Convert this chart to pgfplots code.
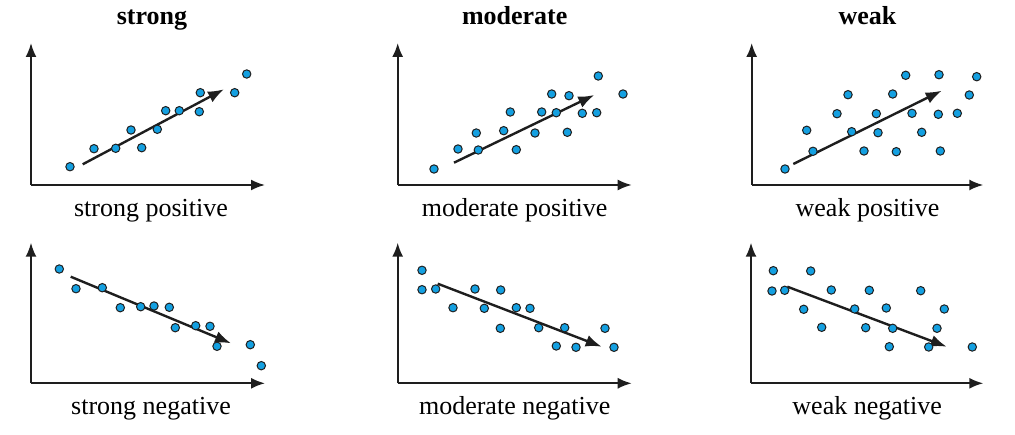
\documentclass[border=0pt]{standalone}
\usepackage{pgfplots}
\pgfplotsset{compat=1.18}
\usepackage{fontspec}
\setmainfont{Liberation Serif}
\usetikzlibrary{arrows.meta}
\definecolor{dotblue}{RGB}{20,160,225}
\definecolor{ink}{RGB}{30,30,30}
\pgfplotsset{
  panel/.style={
    x=1pt, y=1pt,
    anchor=south west,
    axis lines=left,
    axis line style={ink, line width=1.9pt, -{Latex[length=14pt,width=11pt]}},
    xtick=\empty, ytick=\empty,
    clip=false,
    xlabel style={at={(axis description cs:0.5,0)}, anchor=base, yshift=-32pt, font=\fontsize{26}{30}\selectfont, inner sep=0pt},
    title style={at={(axis description cs:0.5,1)}, anchor=base, yshift=12pt, font=\fontsize{26}{30}\selectfont\bfseries, inner sep=0pt},
  },
  dots/.style={only marks, mark=*, mark size=4.2pt, mark options={fill=dotblue, draw=ink, line width=1pt}},
  trend/.style={ink, line width=2.4pt, -{Latex[length=16pt,width=12pt]}},
}
\begin{document}
\begin{tikzpicture}
\path (0,0) rectangle (1015pt,434pt);
% strong positive
\begin{axis}[panel, at={(31pt,249pt)}, xmin=31, xmax=265, ymin=249, ymax=391,
  title={strong}, xlabel={strong positive}, xlabel style={xshift=3pt}, title style={xshift=4pt}]
\addplot[dots] coordinates {(70,267.3) (94,285.3) (115.7,285.7) (131,304) (141.7,286.3) (157.3,304.7) (165.7,323.3) (179.3,323.3) (199.3,322.3) (200.3,341.3) (234.7,341.3) (246.7,360)};
\addplot[trend] coordinates {(82.7,269.7) (224,344.7)};
\end{axis}
% moderate positive
\begin{axis}[panel, at={(397.7pt,249pt)}, xmin=397.7, xmax=631.7, ymin=249, ymax=391,
  title={moderate}, xlabel={moderate positive}]
\addplot[dots] coordinates {(434,265) (458,285) (476.3,301) (478.3,284) (503.7,303.3) (510.3,322) (516.3,284.3) (535,301) (541.7,322) (551.7,340) (556.3,321.3) (567.3,301.7) (569,338.3) (582.3,320.7) (596.7,321.3) (598.3,358) (623,340)};
\addplot[trend] coordinates {(454,271.3) (594.3,339)};
\end{axis}
% weak positive
\begin{axis}[panel, at={(751.7pt,249pt)}, xmin=751.7, xmax=983.3, ymin=249, ymax=391,
  title={weak}, xlabel={weak positive}]
\addplot[dots] coordinates {(785,265) (806.7,303.7) (813,282.7) (837,320.3) (848,339.3) (851.7,302.3) (864,283) (876.3,320.3) (878,301.3) (892.7,340) (896.3,282.3) (905.7,358.7) (912,320.7) (921.7,301.7) (938.3,319.7) (939,359.3) (940.3,283) (957.3,320.7) (969.3,339) (976.7,357.3)};
\addplot[trend] coordinates {(793.3,270) (941.7,343.3)};
\end{axis}
% strong negative
\begin{axis}[panel, at={(31pt,50.7pt)}, xmin=31, xmax=265, ymin=50.7, ymax=191.3,
  xlabel={strong negative}, xlabel style={xshift=3pt, yshift=1pt}]
\addplot[dots] coordinates {(59.3,165) (76,145.3) (102.3,146.3) (120.3,126.3) (140.7,127.3) (154,128) (169.3,126.7) (175.3,106.3) (195.7,108.3) (210,107.7) (217,87.7) (250.3,89.3) (261.3,68.3)};
\addplot[trend] coordinates {(70.7,157.3) (231,90.7)};
\end{axis}
% moderate negative
\begin{axis}[panel, at={(397.7pt,50.7pt)}, xmin=397.7, xmax=631.7, ymin=50.7, ymax=191.3,
  xlabel={moderate negative}, xlabel style={yshift=1pt}]
\addplot[dots] coordinates {(422,163.7) (422,144.3) (435.7,145) (453,126.3) (475,145) (484.3,125.7) (500.7,144) (500.3,105.7) (516.3,126.3) (530,125.7) (538.7,106.3) (556.3,88) (564.7,106.3) (576,86.7) (605,105.7) (614,86.7)};
\addplot[trend] coordinates {(437.7,150.3) (601.7,87.3)};
\end{axis}
% weak negative
\begin{axis}[panel, at={(751pt,50.7pt)}, xmin=751, xmax=983.3, ymin=50.7, ymax=191.3,
  xlabel={weak negative}, xlabel style={yshift=1pt}]
\addplot[dots] coordinates {(773.3,163.3) (810.7,163) (772,143) (784.7,143.7) (831.3,144) (869.3,143.7) (920.7,143.3) (803.7,124.7) (854.7,125) (886.3,126) (944.3,125) (821.7,106.7) (865.7,106.3) (892.7,105.7) (937,105.7) (889.3,87.3) (928.7,87) (972.3,87)};
\addplot[trend] coordinates {(787.3,147.3) (946.7,87.3)};
\end{axis}
\end{tikzpicture}
\end{document}
